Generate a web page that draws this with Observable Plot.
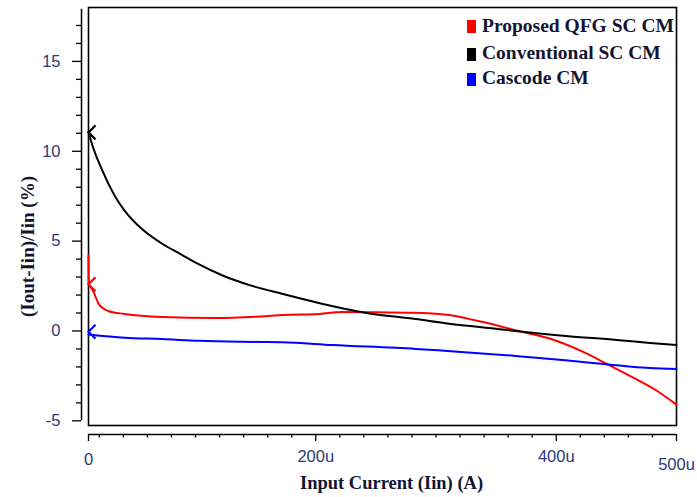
<!DOCTYPE html>
<html><head><meta charset="utf-8">
<script src="https://cdn.jsdelivr.net/npm/d3@7"></script>
<script src="https://cdn.jsdelivr.net/npm/@observablehq/plot@0.6"></script>
<style>
html,body{margin:0;padding:0;background:#fff;}
#wrap{position:relative;width:697px;height:497px;overflow:hidden;}
.sw{position:absolute;width:9px;height:13px;}
.lab{position:absolute;white-space:nowrap;font-family:"Liberation Serif",serif;font-weight:bold;font-size:19.5px;line-height:22px;color:#141432;}
</style></head>
<body><div id="wrap"></div>
<script>
// ---- data ----
const seriesNames = ["Proposed QFG SC CM", "Conventional SC CM", "Cascode CM"];
const seriesColors = ["#ff0000", "#000000", "#0000ff"];

// x in µA, y in %
const redX = [11, 11.2, 14, 20, 28, 41, 72, 116, 161, 172, 203, 222, 250, 280, 311, 328, 339, 372, 395, 422, 444, 464, 483, 500];
const redY = [4.2, 2.6, 2.34, 1.45, 1.1, 0.95, 0.78, 0.72, 0.84, 0.89, 0.95, 1.06, 1.04, 1.02, 0.89, 0.66, 0.5, -0.06, -0.43, -1.15, -1.9, -2.6, -3.3, -4.1];

const blackX = [11, 13, 22, 33, 41, 55, 70, 89, 103, 122, 145, 172, 205, 241, 283, 311, 353, 374, 408, 450, 478, 500];
const blackY = [11.1, 10.6, 9.0, 7.5, 6.7, 5.7, 4.95, 4.22, 3.7, 3.1, 2.55, 2.07, 1.52, 1.02, 0.66, 0.4, 0.1, -0.06, -0.28, -0.5, -0.67, -0.78];

const blueX = [11, 41, 72, 103, 153, 172, 214, 283, 366, 422, 478, 500];
const blueY = [-0.2, -0.38, -0.45, -0.55, -0.61, -0.63, -0.78, -1.0, -1.39, -1.72, -2.06, -2.12];

// start markers (arrow heads at the first point of each trace)
const markerY = [2.6, 11.05, -0.04];

const xTickValues = [11, 200, 400, 500];
const xTickLabels = ["0", "200u", "400u", "500u"];
const xMinorTicks = [20, 40, 60, 80, 100, 120, 140, 160, 180, 220, 240, 260, 280, 300, 320, 340, 360, 380, 420, 440, 460, 480];
const yMajorTicks = [-5, 0, 5, 10, 15];
const yMinorTicks = [-4, -3, -2, -1, 1, 2, 3, 4, 6, 7, 8, 9, 11, 12, 13, 14, 16, 17];

const xTitle = "Input Current (Iin) (A)";
const yTitle = "(Iout-Iin)/Iin (%)";

const xDomain = [11, 500];
const yDomain = [-5.26, 18.0];
const yAxisSpan = [-5, 17.9];

// ---- build ----
const seriesX = [redX, blackX, blueX];
const seriesY = [redY, blackY, blueY];
const tickColor = "#2e3a78";
const titleColor = "#141432";
const chevron = {draw(ctx) { ctx.moveTo(7, -7); ctx.lineTo(0, 0); ctx.lineTo(7, 7); }};

const marks = [];
marks.push(Plot.frame({stroke: "#000", strokeWidth: 1.6}));
marks.push(Plot.ruleX([xDomain[0]], {y1: yAxisSpan[0], y2: yAxisSpan[1], dx: -7, stroke: "#000", strokeWidth: 1.5}));
marks.push(Plot.ruleY([yDomain[0]], {x1: xDomain[0], x2: xDomain[1], dy: 9, stroke: "#000", strokeWidth: 1.5}));

marks.push(Plot.axisY({ticks: yMajorTicks, tickSize: 9, tickPadding: 12, dx: -7, label: null,
  tickFormat: d => String(d), fontSize: 16.5, fill: tickColor, stroke: "#000", strokeWidth: 1.3}));
marks.push(Plot.axisY({ticks: yMinorTicks, tickSize: 5, dx: -7, label: null,
  tickFormat: () => "", stroke: "#000", strokeWidth: 1.3}));

const fmtX = d => xTickLabels[xTickValues.indexOf(d)];
marks.push(Plot.axisX({ticks: [xTickValues[1], xTickValues[2]], tickSize: 7, tickPadding: 9, dy: 9, label: null,
  tickFormat: fmtX, fontSize: 16.5, fill: tickColor, stroke: "#000", strokeWidth: 1.3}));
marks.push(Plot.axisX({ticks: [xTickValues[0]], tickSize: 7, tickPadding: 12, dy: 9, label: null,
  tickFormat: fmtX, fontSize: 16.5, fill: tickColor, stroke: "#000", strokeWidth: 1.3}));
marks.push(Plot.axisX({ticks: [xTickValues[3]], tickSize: 7, tickPadding: 17, dy: 9, label: null,
  tickFormat: fmtX, fontSize: 16.5, fill: tickColor, stroke: "#000", strokeWidth: 1.3}));
marks.push(Plot.axisX({ticks: xMinorTicks, tickSize: 3.5, dy: 9, label: null,
  tickFormat: () => "", stroke: "#000", strokeWidth: 1.3}));

seriesNames.forEach((name, i) => {
  const data = seriesX[i].map((x, j) => ({x, y: seriesY[i][j]}));
  marks.push(Plot.line(data, {x: "x", y: "y", stroke: seriesColors[i], strokeWidth: 2, curve: "monotone-x"}));
  marks.push(Plot.dot([{x: seriesX[i][0], y: markerY[i]}], {x: "x", y: "y", symbol: chevron,
    stroke: seriesColors[i], fill: "none", strokeWidth: 2.2}));
});

marks.push(Plot.text([xTitle], {text: d => d, frameAnchor: "bottom", textAnchor: "middle", dx: 9, dy: 58, lineAnchor: "middle",
  fontFamily: "Liberation Serif", fontWeight: "bold", fontSize: 18.5, fill: titleColor}));
marks.push(Plot.text([yTitle], {text: d => d, frameAnchor: "left", textAnchor: "middle", dx: -61, dy: 30, rotate: -90, lineAnchor: "middle",
  fontFamily: "Liberation Serif", fontWeight: "bold", fontSize: 19, fill: titleColor}));

const chart = Plot.plot({
  width: 697, height: 497,
  marginLeft: 88, marginRight: 21, marginTop: 7, marginBottom: 72,
  x: {domain: xDomain},
  y: {domain: yDomain},
  style: {background: "#fff", fontFamily: "Liberation Sans, Arial, sans-serif", fontSize: "16px", overflow: "visible"},
  marks
});
const wrap = document.getElementById("wrap");
wrap.appendChild(chart);

// legend (inside the plot frame, top-right)
const swTop = [20, 48, 73];
const labTop = [15, 42, 67];
seriesNames.forEach((name, i) => {
  const sw = document.createElement("div");
  sw.className = "sw";
  sw.style.left = "467px";
  sw.style.top = swTop[i] + "px";
  sw.style.background = seriesColors[i];
  wrap.appendChild(sw);
  const lab = document.createElement("div");
  lab.className = "lab";
  lab.style.left = "482px";
  lab.style.top = labTop[i] + "px";
  lab.textContent = name;
  wrap.appendChild(lab);
});
</script>
</body></html>
